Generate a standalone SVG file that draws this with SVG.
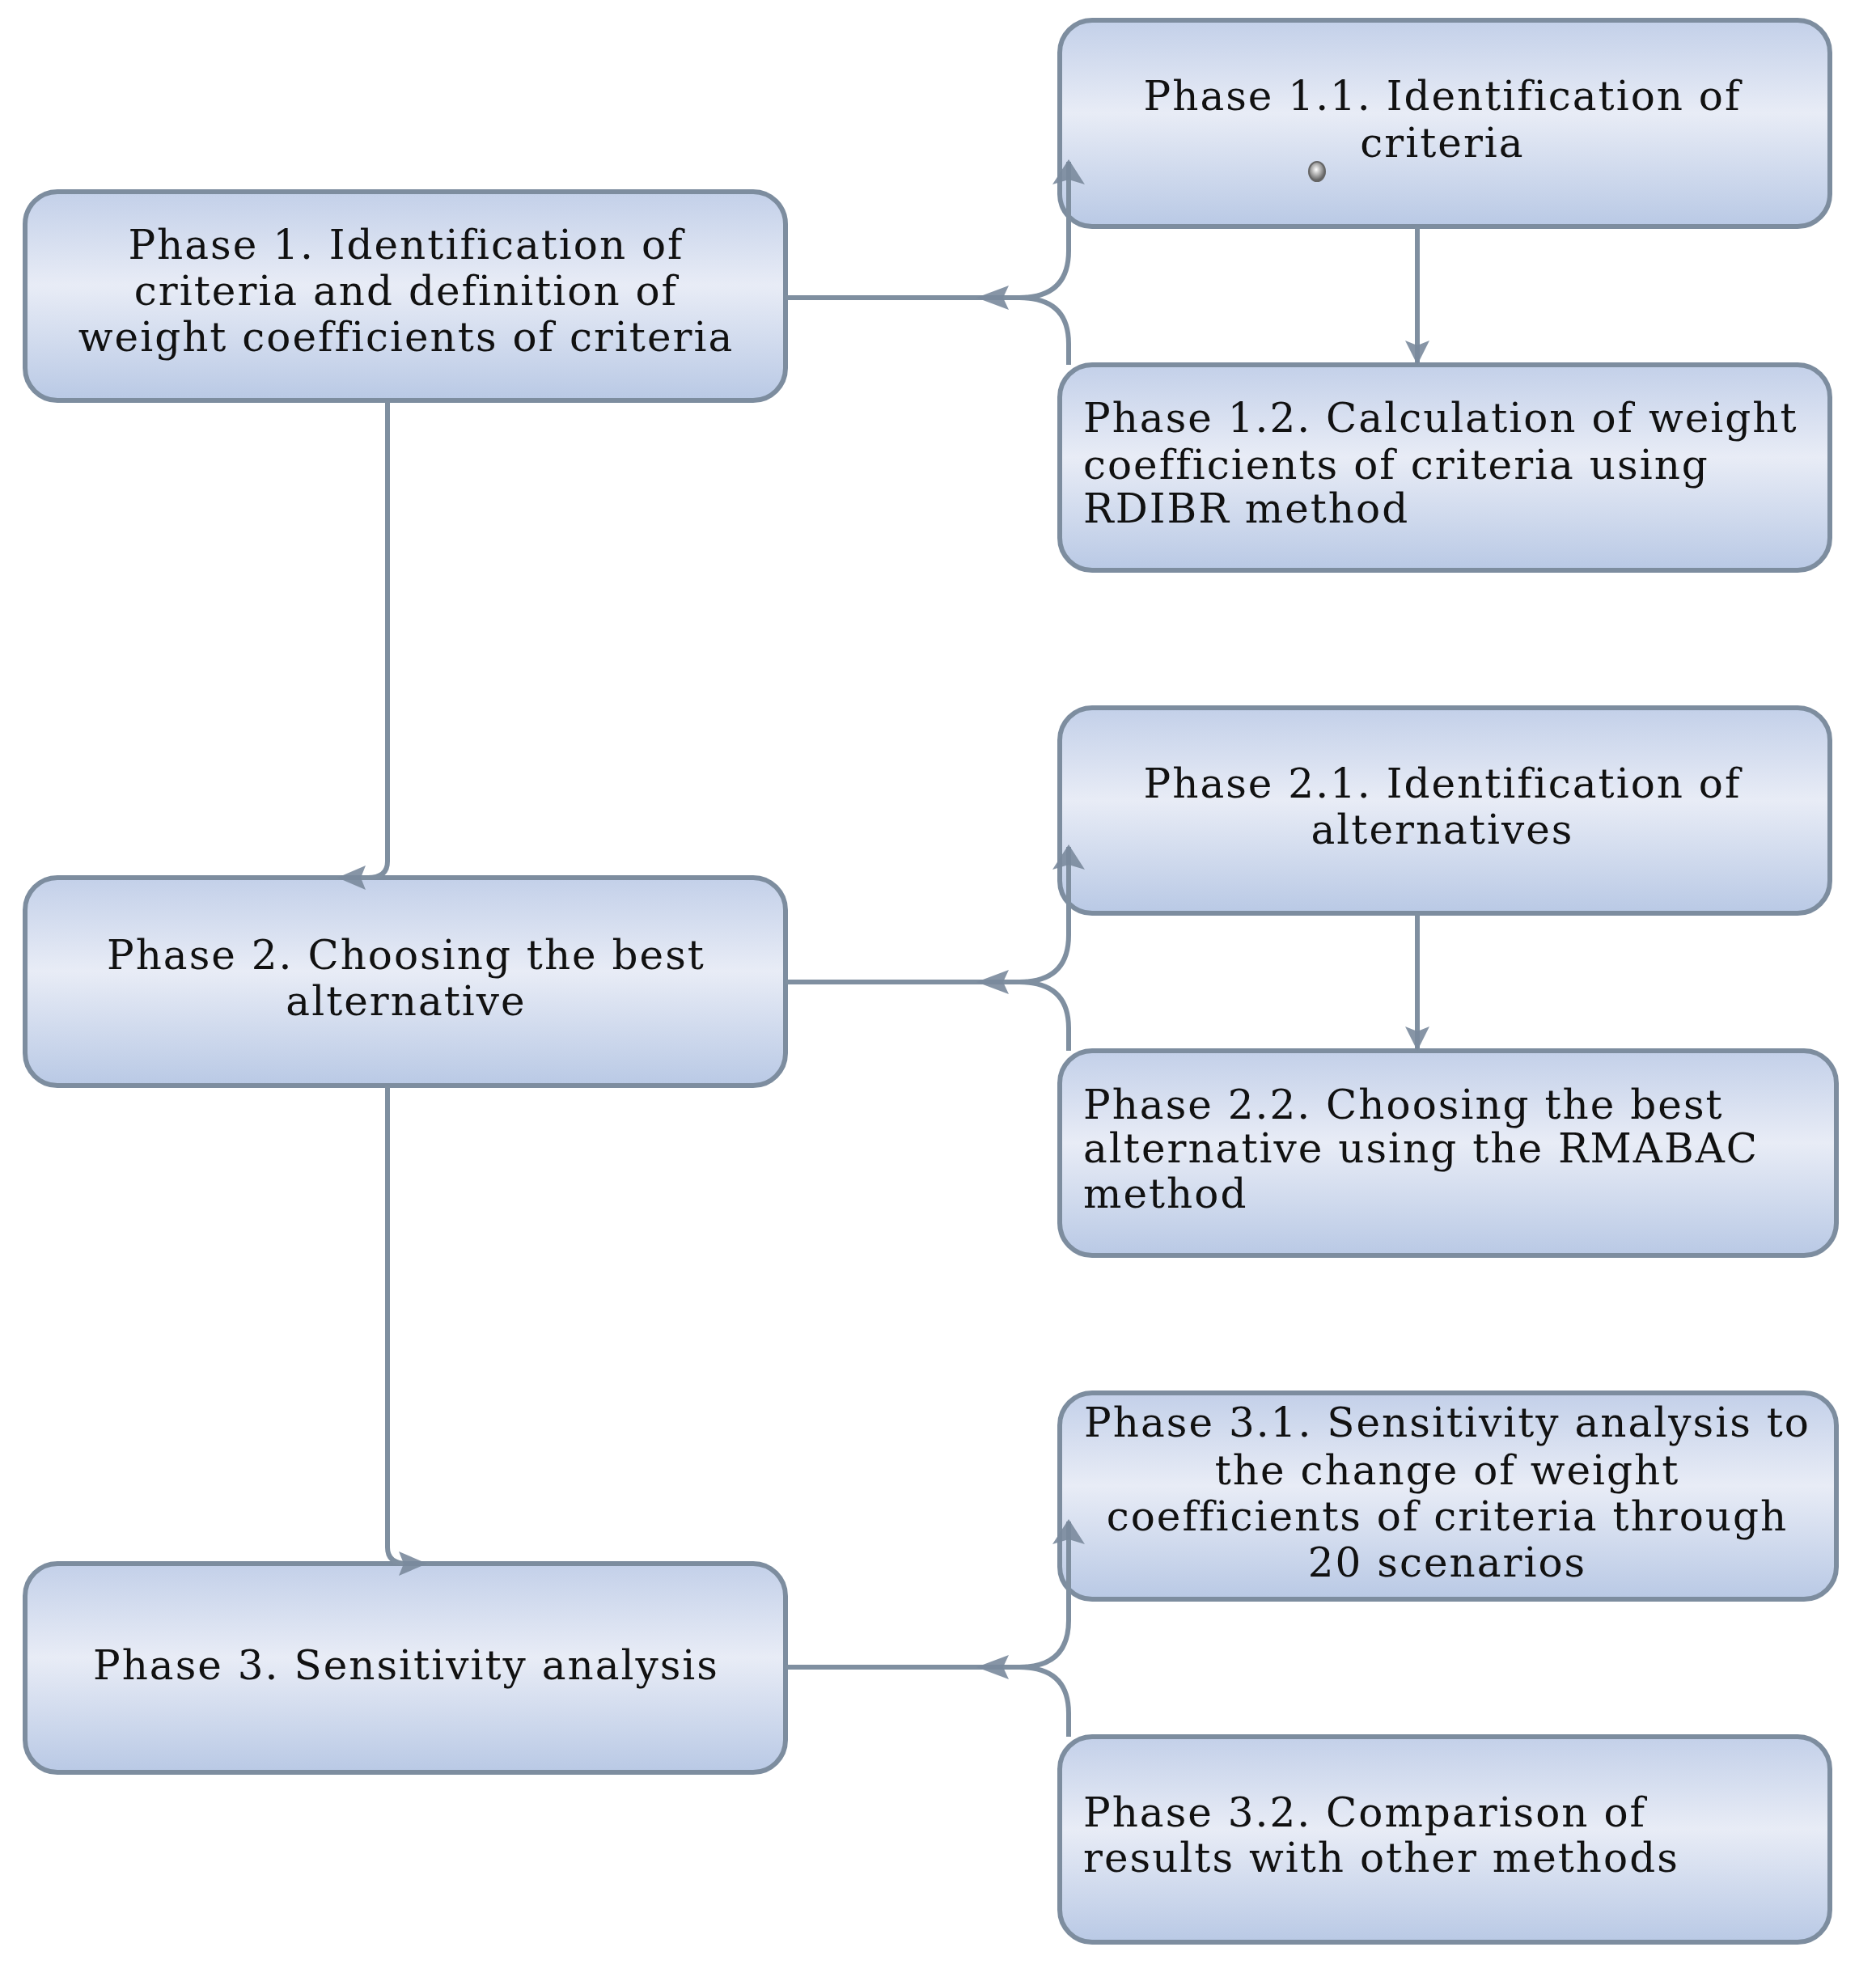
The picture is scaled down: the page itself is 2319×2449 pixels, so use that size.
<svg xmlns="http://www.w3.org/2000/svg" width="2319" height="2449" viewBox="0 0 2319 2449">
<style>
.box{fill:url(#g);stroke:#7d8d9f;stroke-width:6}
.t{font-family:"DejaVu Serif","Liberation Serif",serif;font-size:50px;letter-spacing:2px;fill:#111}
.c{text-anchor:middle}
.ln{fill:none;stroke:#7f8fa0;stroke-width:6}
.ah{fill:#7a8a9c;opacity:0.9}
</style>
<defs>
<linearGradient id="g" x1="0" y1="0" x2="0" y2="1">
<stop offset="0" stop-color="#c3d0e9"/>
<stop offset="0.45" stop-color="#e8ecf6"/>
<stop offset="1" stop-color="#b9c9e5"/>
</linearGradient>
<radialGradient id="bead" cx="0.45" cy="0.4" r="0.6">
<stop offset="0" stop-color="#ffffff"/>
<stop offset="0.5" stop-color="#aaaaaa"/>
<stop offset="1" stop-color="#555555"/>
</radialGradient>
</defs>
<g id="n1"><rect class="box" x="31" y="237" width="940" height="258" rx="40"/>
<text class="t c" x="502" y="320">Phase 1. Identification of</text>
<text class="t c" x="502" y="377">criteria and definition of</text>
<text class="t c" x="502" y="434">weight coefficients of criteria</text></g>
<g id="n11"><rect class="box" x="1310" y="25" width="952" height="255" rx="40"/>
<text class="t c" x="1783" y="136">Phase 1.1. Identification of</text>
<text class="t c" x="1783" y="194">criteria</text>
<ellipse cx="1628" cy="212" rx="10" ry="12" fill="url(#bead)" stroke="#666" stroke-width="2"/></g>
<g id="n12"><rect class="box" x="1310" y="451" width="952" height="254" rx="40"/>
<text class="t" x="1339" y="534">Phase 1.2. Calculation of weight</text>
<text class="t" x="1339" y="592">coefficients of criteria using</text>
<text class="t" x="1339" y="646">RDIBR method</text></g>
<g id="n21"><rect class="box" x="1310" y="875" width="952" height="254" rx="40"/>
<text class="t c" x="1783" y="986">Phase 2.1. Identification of</text>
<text class="t c" x="1783" y="1043">alternatives</text></g>
<g id="n2"><rect class="box" x="31" y="1085" width="940" height="257" rx="40"/>
<text class="t c" x="502" y="1198">Phase 2. Choosing the best</text>
<text class="t c" x="502" y="1255">alternative</text></g>
<g id="n22"><rect class="box" x="1310" y="1299" width="960" height="253" rx="40"/>
<text class="t" x="1339" y="1383">Phase 2.2. Choosing the best</text>
<text class="t" x="1339" y="1437">alternative using the RMABAC</text>
<text class="t" x="1339" y="1493">method</text></g>
<g id="n31"><rect class="box" x="1310" y="1722" width="960" height="255" rx="40"/>
<text class="t c" x="1789" y="1776">Phase 3.1. Sensitivity analysis to</text>
<text class="t c" x="1789" y="1835">the change of weight</text>
<text class="t c" x="1789" y="1892">coefficients of criteria through</text>
<text class="t c" x="1789" y="1949">20 scenarios</text></g>
<g id="n3"><rect class="box" x="31" y="1933" width="940" height="258" rx="40"/>
<text class="t c" x="502" y="2076">Phase 3. Sensitivity analysis</text></g>
<g id="n32"><rect class="box" x="1310" y="2147" width="952" height="254" rx="40"/>
<text class="t" x="1339" y="2258">Phase 3.2. Comparison of</text>
<text class="t" x="1339" y="2314">results with other methods</text></g>
<g id="connectors">
<path class="ln" d="M971 368 H1260 Q1321 368 1321 310 V200"/>
<path class="ln" d="M1260 368 Q1321 368 1321 425 V451"/>
<polygon class="ah" points="1207,368 1247,353 1240,368 1247,383"/>
<polygon class="ah" points="1321,197 1341,228 1321,222 1301,228"/>
<path class="ln" d="M1752 280 V448"/>
<polygon class="ah" points="1752,451 1737,421 1752,427 1767,421"/>
<path class="ln" d="M971 1214 H1260 Q1321 1214 1321 1156 V1047"/>
<path class="ln" d="M1260 1214 Q1321 1214 1321 1271 V1299"/>
<polygon class="ah" points="1207,1214 1247,1199 1240,1214 1247,1229"/>
<polygon class="ah" points="1321,1044 1341,1075 1321,1069 1301,1075"/>
<path class="ln" d="M1752 1129 V1296"/>
<polygon class="ah" points="1752,1299 1737,1269 1752,1275 1767,1269"/>
<path class="ln" d="M971 2061 H1260 Q1321 2061 1321 2003 V1881"/>
<path class="ln" d="M1260 2061 Q1321 2061 1321 2118 V2147"/>
<polygon class="ah" points="1207,2061 1247,2046 1240,2061 1247,2076"/>
<polygon class="ah" points="1321,1878 1341,1909 1321,1903 1301,1909"/>
<path class="ln" d="M479 495 V1065 Q479 1085 455 1085 H440"/>
<polygon class="ah" points="417,1085 452,1070 446,1085 452,1100"/>
<path class="ln" d="M479 1342 V1913 Q479 1933 503 1933 H510"/>
<polygon class="ah" points="528,1933 493,1918 499,1933 493,1948"/>
</g>
</svg>
